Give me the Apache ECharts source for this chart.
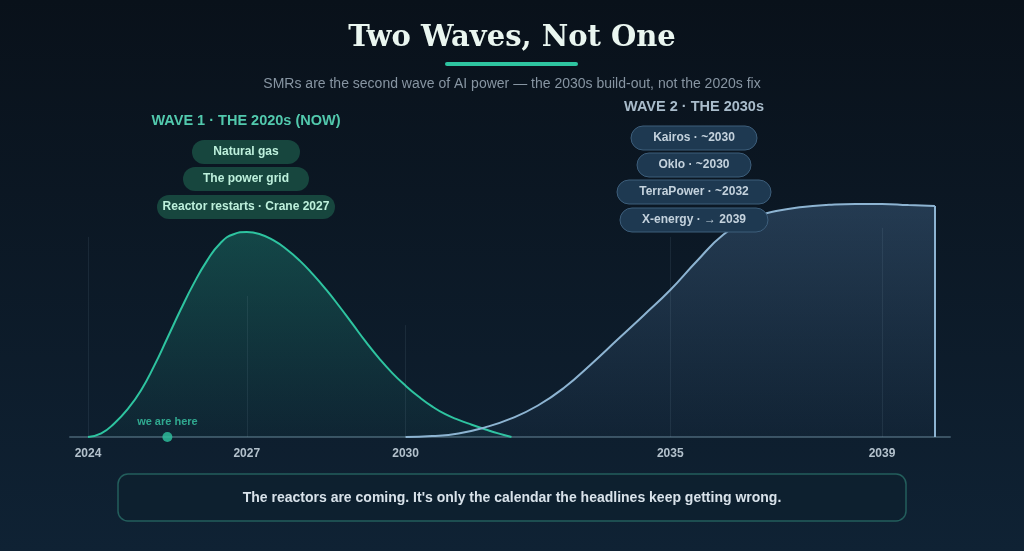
<!DOCTYPE html>
<html>
<head>
<meta charset="utf-8">
<script src="https://cdn.jsdelivr.net/npm/echarts@6/dist/echarts.min.js"></script>
<style>
html,body{margin:0;padding:0;width:1024px;height:551px;overflow:hidden;background:#0b1520;}
#chart{width:1024px;height:551px;}
</style>
</head>
<body>
<div id="chart"></div>
<script>
// ---------- data ----------
const wave1Years  = [2024, 2024.25, 2024.5, 2024.75, 2025, 2025.25, 2025.5, 2025.75, 2026, 2026.25, 2026.5, 2026.75, 2027, 2027.25, 2027.5, 2027.75, 2028, 2028.25, 2028.5, 2028.75, 2029, 2029.25, 2029.5, 2029.75, 2030, 2030.25, 2030.5, 2030.75, 2031, 2031.25, 2031.5, 2031.75, 2032];
const wave1Values = [0, 1.2, 4.6, 9.3, 15.5, 23.7, 33, 42.4, 51.2, 58.8, 64.6, 67.6, 68.3, 67.6, 65.6, 62.6, 58.8, 54.2, 49.1, 43.5, 37.6, 31.7, 26.2, 21.3, 17.1, 13.4, 10.2, 7.6, 5.7, 4.1, 2.6, 1.2, 0];

const wave2Years  = [2030, 2030.5, 2031, 2031.5, 2032, 2032.5, 2033, 2033.5, 2034, 2034.5, 2035, 2035.5, 2036, 2036.5, 2037, 2037.5, 2038, 2038.5, 2039, 2039.5, 2040];
const wave2Values = [0, 0.3, 1.2, 3.2, 6.2, 10.5, 16.5, 24.2, 32.4, 40.6, 49, 58.6, 67.4, 72.7, 75.3, 76.7, 77.4, 77.7, 77.7, 77.3, 77];

const tickYears = [2024, 2027, 2030, 2035, 2039];
const guideTops = [66.7, 47, 37.3, 66.7, 69.7];
const nowYear = 2025.5;

const wave1Items = ['Natural gas', 'The power grid', 'Reactor restarts · Crane 2027'];
const wave2Items = ['Kairos · ~2030', 'Oklo · ~2030', 'TerraPower · ~2032', 'X-energy · → 2039'];

const titleText = 'Two Waves, Not One';
const subtitleText = 'SMRs are the second wave of AI power — the 2030s build-out, not the 2020s fix';
const wave1Title = 'WAVE 1 · THE 2020s (NOW)';
const wave2Title = 'WAVE 2 · THE 2030s';
const footerText = "The reactors are coming. It's only the calendar the headlines keep getting wrong.";

// ---------- build ----------
const wave1Data = wave1Years.map((y, i) => [y, wave1Values[i]]);
const wave2Data = wave2Years.map((y, i) => [y, wave2Values[i]]);
const lastW2 = wave2Data[wave2Data.length - 1];

const SANS = '"Liberation Sans", Arial, sans-serif';

function pill(cx, cy, w, text, fill, stroke, color) {
  return {
    type: 'group', z: 20,
    children: [
      { type: 'rect', z: 20, shape: { x: cx - w / 2, y: cy - 12, width: w, height: 24, r: 12 },
        style: { fill: fill, stroke: stroke, lineWidth: stroke ? 1 : 0 } },
      { type: 'text', z: 21, x: cx, y: cy,
        style: { text: text, fill: color, font: 'bold 12px ' + SANS, align: 'center', verticalAlign: 'middle' } }
    ]
  };
}

const w1Widths = [108, 126, 178];
const w1Ys = [152, 179, 207];
const w2Widths = [126, 114, 154, 148];
const w2Ys = [138, 165, 192, 220];

const graphics = [
  { type: 'text', z: 20, x: 512, y: 38, style: { text: titleText, fill: '#eaf6f0', font: 'bold 29px "DejaVu Serif", serif', align: 'center', verticalAlign: 'middle' } },
  { type: 'rect', z: 20, shape: { x: 445, y: 62, width: 133, height: 4, r: 2 }, style: { fill: '#2ec4a0' } },
  { type: 'text', z: 20, x: 512, y: 84, style: { text: subtitleText, fill: '#8795a2', font: '14px ' + SANS, align: 'center', verticalAlign: 'middle' } },
  { type: 'text', z: 20, x: 246, y: 121, style: { text: wave1Title, fill: '#52c9ad', font: 'bold 14.5px ' + SANS, align: 'center', verticalAlign: 'middle' } },
  { type: 'text', z: 20, x: 694, y: 107, style: { text: wave2Title, fill: '#a9bccb', font: 'bold 14.5px ' + SANS, align: 'center', verticalAlign: 'middle' } },
  { type: 'rect', z: 20, shape: { x: 118, y: 474, width: 788, height: 47, r: 10 }, style: { fill: 'rgba(12,32,46,0.55)', stroke: '#235e5c', lineWidth: 1.5 } },
  { type: 'text', z: 21, x: 512, y: 498, style: { text: footerText, fill: '#d8e2ea', font: 'bold 14px ' + SANS, align: 'center', verticalAlign: 'middle' } }
];
wave1Items.forEach((t, i) => graphics.push(pill(246, w1Ys[i], w1Widths[i], t, '#17463e', null, '#bdf0dc')));
wave2Items.forEach((t, i) => graphics.push(pill(694, w2Ys[i], w2Widths[i], t, '#1e3951', '#3d5e7b', '#c4d2dd')));

const guideLines = tickYears.map((y, i) => [{ coord: [y, 0] }, { coord: [y, guideTops[i]] }]);

const chart = echarts.init(document.getElementById('chart'));
chart.setOption({
  backgroundColor: {
    type: 'linear', x: 0, y: 0, x2: 0, y2: 1,
    colorStops: [{ offset: 0, color: '#09111a' }, { offset: 1, color: '#0f2234' }]
  },
  animation: false,
  grid: { left: 70, right: 74, top: 137, bottom: 114 },
  xAxis: {
    type: 'value', min: 2023.66, max: 2040.285,
    axisLine: { show: true, onZero: false, lineStyle: { color: '#3a5263', width: 2 } },
    axisTick: { show: false },
    splitLine: { show: false },
    axisLabel: {
      customValues: tickYears, margin: 11,
      color: '#b3c1cc', fontWeight: 'bold', fontSize: 12, fontFamily: 'Liberation Sans, Arial, sans-serif',
      formatter: v => String(v)
    }
  },
  yAxis: { type: 'value', min: 0, max: 100, show: false },
  graphic: graphics,
  series: [
    {
      type: 'line', name: 'guides', data: [], z: 1,
      markLine: {
        silent: true, symbol: 'none', label: { show: false },
        lineStyle: { color: 'rgba(160,190,210,0.10)', width: 1, type: 'solid' },
        data: guideLines
      }
    },
    {
      type: 'line', name: 'Wave 1', data: wave1Data, smooth: 0.5, showSymbol: false, z: 3,
      lineStyle: { color: '#2ec4a0', width: 2 },
      areaStyle: {
        color: { type: 'linear', x: 0, y: 0, x2: 0, y2: 1,
          colorStops: [{ offset: 0, color: 'rgba(40,190,160,0.40)' }, { offset: 1, color: 'rgba(40,190,160,0.06)' }] }
      }
    },
    {
      type: 'line', name: 'Wave 2', data: wave2Data, smooth: 0.5, showSymbol: false, z: 4,
      lineStyle: { color: '#8db4d2', width: 2 },
      areaStyle: {
        color: { type: 'linear', x: 0, y: 0, x2: 0, y2: 1,
          colorStops: [{ offset: 0, color: 'rgba(100,150,200,0.40)' }, { offset: 1, color: 'rgba(100,150,200,0.06)' }] }
      },
      markLine: {
        silent: true, symbol: 'none', label: { show: false },
        lineStyle: { color: '#8db4d2', width: 2, type: 'solid' },
        data: [[{ coord: [lastW2[0], 0] }, { coord: [lastW2[0], lastW2[1]] }]]
      }
    },
    {
      type: 'scatter', name: 'now', data: [[nowYear, 0]], symbolSize: 10, z: 6,
      itemStyle: { color: '#2ec4a0' },
      label: { show: true, position: 'top', distance: 5, formatter: 'we are here',
        color: '#38c9a6', fontSize: 11, fontWeight: 'bold', fontFamily: 'Liberation Sans, Arial, sans-serif' }
    }
  ]
});
</script>
</body>
</html>
